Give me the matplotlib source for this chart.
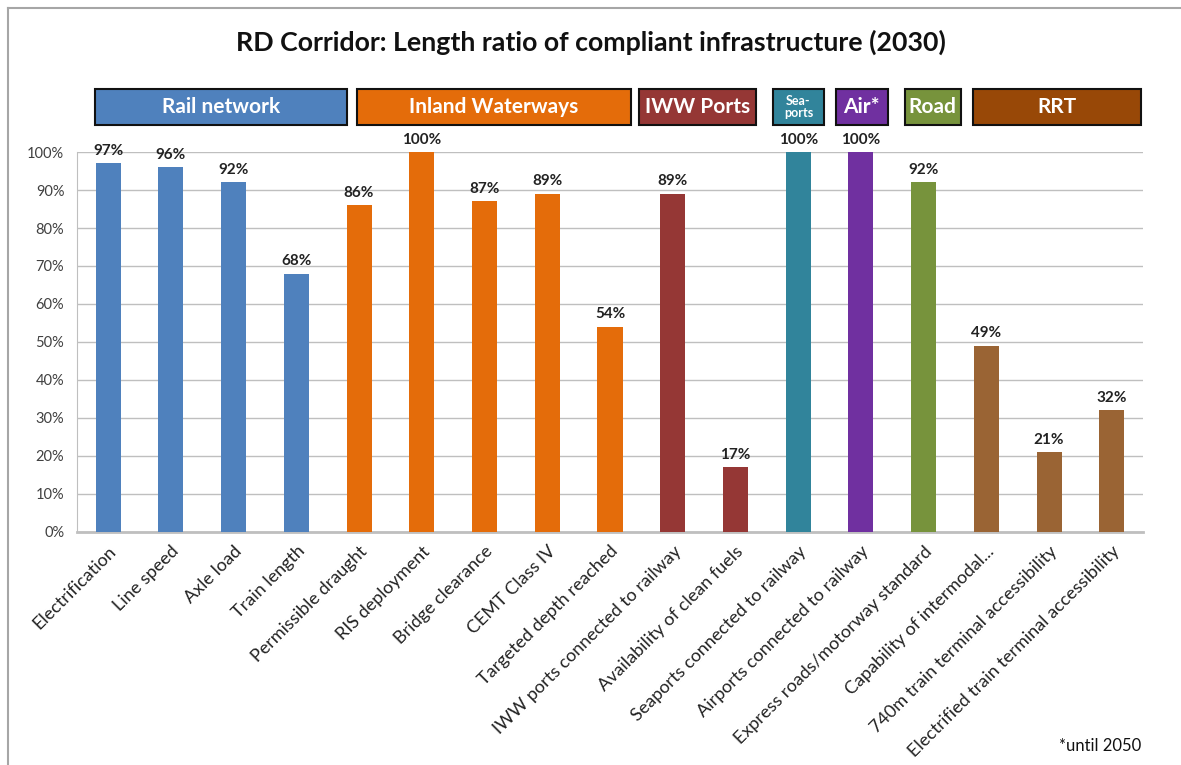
import numpy as np
import matplotlib.pyplot as plt
import matplotlib.transforms as mtransforms
from matplotlib.patches import Rectangle
from matplotlib.lines import Line2D

plt.rcParams['font.family'] = ['Lato', 'DejaVu Sans']

# --------------------------- DATA ---------------------------
categories = ['Electrification', 'Line speed', 'Axle load', 'Train length',
              'Permissible draught', 'RIS deployment', 'Bridge clearance',
              'CEMT Class IV', 'Targeted depth reached',
              'IWW ports connected to railway', 'Availability of clean fuels',
              'Seaports connected to railway', 'Airports connected to railway',
              'Express roads/motorway standard', 'Capability of intermodal...',
              '740m train terminal accessibility',
              'Electrified train terminal accessibility']
values = [97, 96, 92, 68, 86, 100, 87, 89, 54, 89, 17, 100, 100, 92, 49, 21, 32]
bar_group = [0, 0, 0, 0, 1, 1, 1, 1, 1, 2, 2, 3, 4, 5, 6, 6, 6]

group_names = ['Rail network', 'Inland Waterways', 'IWW Ports', 'Sea-\nports',
               'Air*', 'Road', 'RRT']
group_colors = ['#4F81BD', '#E46C0A', '#953735', '#31849B', '#7030A0',
                '#77933C', '#984807']
bar_colors_by_group = ['#4F81BD', '#E46C0A', '#953735', '#31849B', '#7030A0',
                       '#77933C', '#9A6434']

# header boxes (x extent in category units)
box_extent = [(-0.21, 3.8), (3.96, 8.34), (8.46, 10.33), (10.6, 11.41),
              (11.6, 12.43), (12.7, 13.59), (13.78, 16.47)]

# --------------------------- PLOT ---------------------------
fig = plt.figure(figsize=(11.81, 7.65), dpi=100)
ax = fig.add_axes([0.065, 0.3046, 0.903, 0.4967])

x = np.arange(len(categories))
colors = [bar_colors_by_group[g] for g in bar_group]
ax.bar(x, [v / 100 for v in values], width=0.40, color=colors, zorder=3)

for xi, v in zip(x, values):
    ax.text(xi, v / 100 + 0.014, f'{v}%', ha='center', va='bottom',
            fontsize=11, fontweight='bold', color='#222222', zorder=4)

ax.set_xlim(-0.5, len(categories) - 0.5)
ax.set_ylim(0, 1.0)
ax.set_yticks(np.arange(0, 1.01, 0.1))
ax.set_yticklabels([f'{int(round(t * 100))}%' for t in np.arange(0, 1.01, 0.1)],
                   fontsize=10.5, color='#404040')
ax.yaxis.grid(True, color='#BFBFBF', linewidth=1, zorder=0)
ax.set_axisbelow(True)
ax.tick_params(axis='y', length=0, pad=9)
ax.tick_params(axis='x', length=0, pad=8)
ax.set_xticks(x)
ax.set_xticklabels(categories, rotation=45, ha='right', rotation_mode='anchor',
                   fontsize=13, color='#222222')
for s in ['top', 'right']:
    ax.spines[s].set_visible(False)
ax.spines['left'].set_color('#BFBFBF')
ax.spines['bottom'].set_color('#BFBFBF')
ax.spines['bottom'].set_linewidth(2)

# header boxes
trans = mtransforms.blended_transform_factory(ax.transData, ax.transAxes)
for (x0, x1), name, col in zip(box_extent, group_names, group_colors):
    ax.add_patch(Rectangle((x0, 1.071), x1 - x0, 0.095, transform=trans,
                           facecolor=col, edgecolor='#111111', linewidth=1.5,
                           clip_on=False, zorder=5))
    small = '\n' in name
    ax.text((x0 + x1) / 2, 1.1185, name, transform=trans, ha='center',
            va='center', color='white', fontweight='bold',
            fontsize=9 if small else 15, linespacing=1.0,
            clip_on=False, zorder=6)

fig.text(0.5, 0.945, 'RD Corridor: Length ratio of compliant infrastructure (2030)',
         ha='center', va='center', fontsize=19.3, fontweight='bold', color='#111111')
fig.text(0.966, 0.025, '*until 2050', ha='right', va='center', fontsize=12,
         color='#111111')

# outer frame
fig.add_artist(Line2D([8 / 1181, 1], [1 - 8 / 765, 1 - 8 / 765],
                      transform=fig.transFigure, color='#A6A6A6', linewidth=1.5))
fig.add_artist(Line2D([8 / 1181, 8 / 1181], [0, 1 - 8 / 765],
                      transform=fig.transFigure, color='#A6A6A6', linewidth=1.5))

fig.savefig('out.png', dpi=100)
